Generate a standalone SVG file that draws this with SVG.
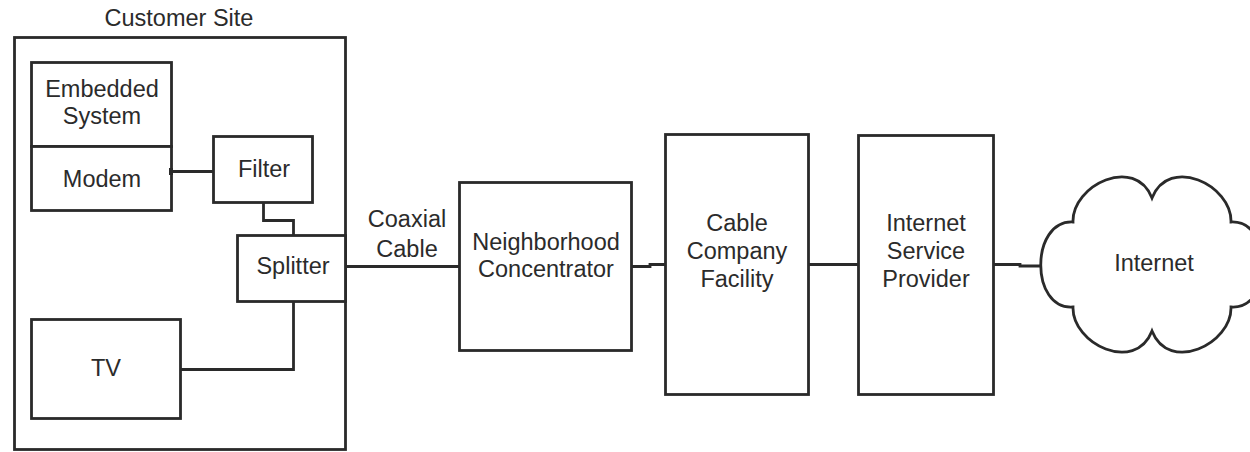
<svg xmlns="http://www.w3.org/2000/svg" width="1250" height="452" viewBox="0 0 1250 452">
<style>
.box{fill:#fff;stroke:#2a2a2a;stroke-width:2.8}
.ln{fill:none;stroke:#2a2a2a;stroke-width:2.8;stroke-linejoin:miter}
text{font-family:"Liberation Sans",Arial,Helvetica,sans-serif;font-size:23.5px;fill:#2b2b2b;text-anchor:middle}
</style>
<rect width="1250" height="452" fill="#fff"/>
<g id="customer-site">
<rect class="box" x="14.5" y="37.5" width="331" height="412"/>
<text x="179" y="26">Customer Site</text>
</g>
<g id="embedded-system">
<rect class="box" x="31.5" y="62.5" width="140" height="84"/>
<text x="102" y="97">Embedded</text>
<text x="102" y="124">System</text>
</g>
<g id="modem">
<rect class="box" x="31.5" y="146.5" width="140" height="64"/>
<text x="102" y="187">Modem</text>
</g>
<g id="filter">
<rect class="box" x="213.5" y="136.5" width="99" height="66"/>
<text x="264" y="177">Filter</text>
</g>
<g id="splitter">
<rect class="box" x="237.5" y="235.5" width="108" height="66"/>
<text x="293" y="274">Splitter</text>
</g>
<g id="tv">
<rect class="box" x="31.5" y="319.5" width="149" height="99"/>
<text x="106" y="376">TV</text>
</g>
<g id="neighborhood-concentrator">
<rect class="box" x="459.5" y="182.5" width="172" height="168"/>
<text x="546" y="250">Neighborhood</text>
<text x="546" y="277">Concentrator</text>
</g>
<g id="cable-company-facility">
<rect class="box" x="665.5" y="134.5" width="143" height="260"/>
<text x="737" y="231">Cable</text>
<text x="737" y="259">Company</text>
<text x="737" y="287">Facility</text>
</g>
<g id="isp">
<rect class="box" x="858.5" y="135.5" width="135" height="259"/>
<text x="926" y="231">Internet</text>
<text x="926" y="259">Service</text>
<text x="926" y="287">Provider</text>
</g>
<g id="internet">
<path class="box" d="M1073,222 C1072,185 1135,155 1152,198 C1169,155 1232,185 1231,222 C1274,220 1274,310 1231,307 C1232,344 1169,374 1152,331 C1135,374 1072,344 1073,307 C1030,310 1030,220 1073,222 Z"/>
<text x="1154" y="271">Internet</text>
</g>
<g id="connectors">
<path class="ln" d="M172,171.5 H213"/>
<rect x="169" y="168" width="4" height="7" fill="#2a2a2a"/>
<path class="ln" d="M263.5,203 V220.5 H293.5 V235"/>
<path class="ln" d="M293.5,302 V369.5 H181"/>
<path class="ln" d="M346,266.5 H459"/>
<path class="ln" d="M632,266.5 H650 V264.5 H665"/>
<path class="ln" d="M809,264.5 H858"/>
<path class="ln" d="M994,264.5 H1020 V266 H1040"/>
<text x="407" y="227">Coaxial</text>
<text x="407" y="257">Cable</text>
</g>
</svg>
